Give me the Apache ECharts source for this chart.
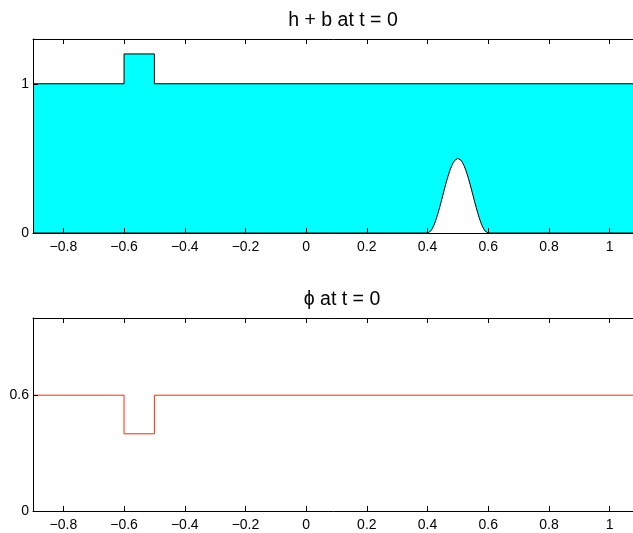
<!DOCTYPE html>
<html><head><meta charset="utf-8">
<script src="https://cdn.jsdelivr.net/npm/echarts@6/dist/echarts.min.js"></script>
<style>html,body{margin:0;padding:0;background:#fff}#c{width:633px;height:533px}</style>
</head><body><div id="c"></div>
<script>
// x tick values and labels
const xTicks = [-0.8, -0.6, -0.4, -0.2, 0, 0.2, 0.4, 0.6, 0.8, 1];
const topYTicks = [0, 1];
const botYTicks = [0, 0.6];
// surface h + b
const surfX = [-0.9, -0.6, -0.6, -0.5, -0.5, 1.1];
const surfY = [1, 1, 1.2, 1.2, 1, 1];
// bottom topography b
const bedX = [-0.9, 0.4, 0.405, 0.41, 0.415, 0.42, 0.425, 0.43, 0.435, 0.44, 0.445, 0.45, 0.455, 0.46, 0.465, 0.47, 0.475, 0.48, 0.485, 0.49, 0.495, 0.5,
  0.505, 0.51, 0.515, 0.52, 0.525, 0.53, 0.535, 0.54, 0.545, 0.55, 0.555, 0.56, 0.565, 0.57, 0.575, 0.58, 0.585, 0.59, 0.595, 0.6, 1.1];
const bedY = [0, 0, 0.0031, 0.0122, 0.0273, 0.0477, 0.0732, 0.1031, 0.1365, 0.1727, 0.2109, 0.25, 0.2891, 0.3273, 0.3635, 0.3969, 0.4268, 0.4523, 0.4728, 0.4878, 0.4969, 0.5,
  0.4969, 0.4878, 0.4728, 0.4523, 0.4268, 0.3969, 0.3635, 0.3273, 0.2891, 0.25, 0.2109, 0.1727, 0.1365, 0.1031, 0.0732, 0.0477, 0.0273, 0.0122, 0.0031, 0, 0];
// phi
const phiX = [-0.9, -0.6, -0.6, -0.5, -0.5, 1.1];
const phiY = [0.6, 0.6, 0.4, 0.4, 0.6, 0.6];

const zip = (a, b) => a.map((v, i) => [v, b[i]]);
const fmt = v => String(+v.toFixed(2)).replace('-', '\u2212');
const font = 'Liberation Sans, Arial, Helvetica, sans-serif';

function xAx(gi, pos, showLabel) {
  return {
    type: 'value', gridIndex: gi, position: pos, min: -0.9, max: 1.1, z: 10,
    splitLine: { show: false },
    axisLine: { show: true, onZero: false, lineStyle: { color: '#000', width: 1 } },
    axisTick: { show: true, inside: true, length: 5, customValues: xTicks, lineStyle: { color: '#000' } },
    axisLabel: { show: showLabel, customValues: xTicks, formatter: fmt, color: '#000', fontSize: 14, fontFamily: font, margin: 7 }
  };
}
function yAx(gi, max, ticks) {
  return {
    type: 'value', gridIndex: gi, min: 0, max: max, z: 10,
    splitLine: { show: false },
    axisLine: { show: true, onZero: false, lineStyle: { color: '#000', width: 1 } },
    axisTick: { show: true, inside: true, length: 5, customValues: ticks, lineStyle: { color: '#000' } },
    axisLabel: { show: true, customValues: ticks, formatter: v => String(+v.toFixed(2)), color: '#000', fontSize: 14, fontFamily: font, margin: 4 }
  };
}

const chart = echarts.init(document.getElementById('c'), null, { renderer: 'canvas' });
chart.setOption({
  animation: false,
  backgroundColor: '#fff',
  title: [
    { text: 'h + b at t = 0', left: 338, top: 6, textAlign: 'center', textStyle: { fontSize: 19.5, fontWeight: 'normal', color: '#000', fontFamily: font } },
    { text: '\u03d5 at t = 0', left: 337, top: 285, textAlign: 'center', textStyle: { fontSize: 19.5, fontWeight: 'normal', color: '#000', fontFamily: font } }
  ],
  grid: [
    { left: 33, top: 39, width: 607, height: 194, containLabel: false, outerBoundsMode: 'none' },
    { left: 33, top: 318, width: 607, height: 193, containLabel: false, outerBoundsMode: 'none' }
  ],
  xAxis: [xAx(0, 'bottom', true), xAx(0, 'top', false), xAx(1, 'bottom', true), xAx(1, 'top', false)],
  yAxis: [yAx(0, 1.3, topYTicks), yAx(1, 1, botYTicks)],
  series: [
    { type: 'line', xAxisIndex: 0, yAxisIndex: 0, data: zip(surfX, surfY), showSymbol: false, z: 2,
      lineStyle: { color: '#000', width: 1 }, areaStyle: { color: '#00ffff', opacity: 1, origin: 'start' } },
    { type: 'line', xAxisIndex: 0, yAxisIndex: 0, data: zip(bedX, bedY), showSymbol: false, z: 3,
      lineStyle: { color: '#000', width: 1 }, areaStyle: { color: '#fff', opacity: 1, origin: 'start' } },
    { type: 'line', xAxisIndex: 2, yAxisIndex: 1, data: zip(phiX, phiY), showSymbol: false, z: 2,
      lineStyle: { color: '#ff2a10', width: 1 } }
  ]
});
</script></body></html>
